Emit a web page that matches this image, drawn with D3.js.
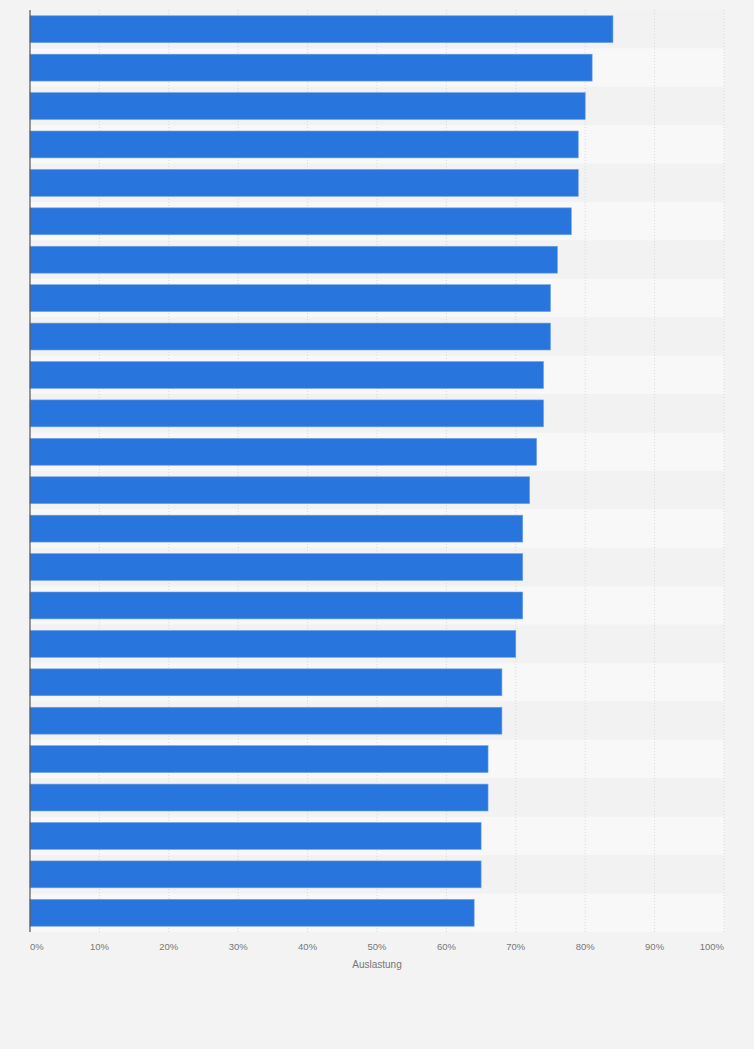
<!DOCTYPE html>
<html>
<head>
<meta charset="utf-8">
<script src="https://cdn.jsdelivr.net/npm/d3@7"></script>
<style>
  html, body { margin: 0; padding: 0; background: #f3f3f3; overflow: hidden; }
  svg { display: block; font-family: "Liberation Sans", Arial, sans-serif; }
</style>
</head>
<body>
<svg id="chart"></svg>
<script>
// rows of the chart (labels are not shown in the original)
const ranks = d3.range(1, 25).map(String);
const auslastung = [84, 81, 80, 79, 79, 78, 76, 75, 75, 74, 74, 73, 72, 71, 71, 71, 70, 68, 68, 66, 66, 65, 65, 64];
const tickValues = [0, 10, 20, 30, 40, 50, 60, 70, 80, 90, 100];
const xTitle = "Auslastung";

const width = 754, height = 1049;
const margin = { top: 10, right: 30, bottom: 117, left: 30 };
const innerWidth = width - margin.left - margin.right;
const innerHeight = height - margin.top - margin.bottom;

const svg = d3.select("#chart")
  .attr("width", width)
  .attr("height", height);

svg.append("rect")
  .attr("width", width)
  .attr("height", height)
  .attr("fill", "#f3f3f3");

const g = svg.append("g")
  .attr("transform", `translate(${margin.left},${margin.top})`);

// --- scales ---
const x = d3.scaleLinear().domain([0, 100]).range([0, innerWidth]);
const y = d3.scaleBand().domain(ranks).range([0, innerHeight])
  .paddingInner(0.3).paddingOuter(0.15);

// --- alternating row stripes ---
g.selectAll(".stripe")
  .data(ranks)
  .join("rect")
  .attr("class", "stripe")
  .attr("x", 0)
  .attr("width", innerWidth)
  .attr("y", d => y(d) - y.step() * y.paddingInner() / 2)
  .attr("height", y.step())
  .attr("fill", (d, i) => i % 2 ? "#f8f8f8" : "#f2f2f2");

// --- grid lines ---
g.append("g")
  .selectAll("line")
  .data(tickValues.filter(d => d > 0))
  .join("line")
  .attr("x1", d => x(d)).attr("x2", d => x(d))
  .attr("y1", 0).attr("y2", innerHeight)
  .attr("stroke", "#d9d9d9")
  .attr("stroke-width", 1)
  .attr("stroke-dasharray", "1,2");

// --- bars ---
g.selectAll(".bar")
  .data(auslastung)
  .join("rect")
  .attr("class", "bar")
  .attr("x", 0)
  .attr("y", (d, i) => y(ranks[i]))
  .attr("width", d => x(d))
  .attr("height", y.bandwidth())
  .attr("fill", "#2876dd")
  .attr("stroke", "#6ea2e6")
  .attr("stroke-width", 0.6);

// --- axis line ---
g.append("line")
  .attr("x1", 0).attr("x2", 0)
  .attr("y1", 0).attr("y2", innerHeight)
  .attr("stroke", "#555")
  .attr("stroke-width", 1.2);

// --- x tick labels ---
g.append("g")
  .selectAll("text")
  .data(tickValues)
  .join("text")
  .attr("x", d => x(d))
  .attr("y", innerHeight + 18)
  .attr("text-anchor", d => d === 0 ? "start" : d === 100 ? "end" : "middle")
  .attr("fill", "#777")
  .style("font-size", "9.5px")
  .text(d => d + "%");

// --- x title ---
g.append("text")
  .attr("x", x(50))
  .attr("y", innerHeight + 36)
  .attr("text-anchor", "middle")
  .attr("fill", "#777")
  .style("font-size", "10px")
  .text(xTitle);
</script>
</body>
</html>
